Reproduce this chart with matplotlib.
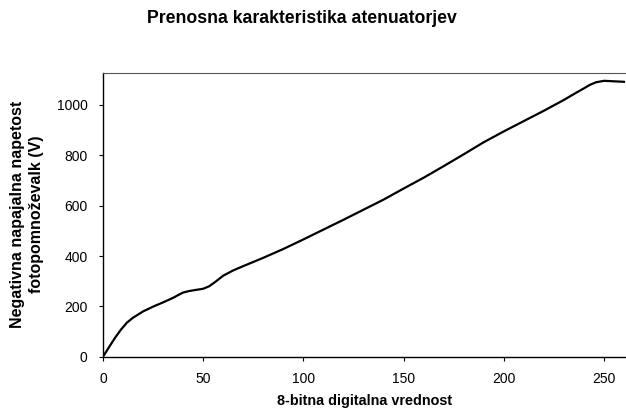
import matplotlib
matplotlib.use("Agg")
import matplotlib.pyplot as plt

plt.rcParams['font.family'] = ['Liberation Sans', 'DejaVu Sans']

digital = [0, 3, 6, 9, 12, 15, 20, 25, 30, 35, 38, 40, 43, 46, 50, 53, 56, 60, 65, 70,
           80, 90, 100, 110, 120, 130, 140, 150, 160, 170, 180, 190, 200, 210, 220,
           230, 236, 240, 243, 246, 250, 255, 260]
voltage = [0, 38, 75, 108, 136, 155, 180, 199, 216, 234, 247, 255, 261, 265, 270, 280,
           297, 322, 343, 360, 393, 428, 466, 505, 544, 584, 624, 668, 711, 757, 804,
           852, 895, 936, 977, 1020, 1048, 1066, 1080, 1090, 1096, 1094, 1092]
xticks = [0, 50, 100, 150, 200, 250]
yticks = [0, 200, 400, 600, 800, 1000]

fig = plt.figure(figsize=(6.26, 4.11), dpi=100)
ax = fig.add_axes([0.1645, 0.132, 0.8355, 0.691])
ax.plot(digital, voltage, color='black', lw=1.6, solid_joinstyle='round')
ax.set_xlim(0, 261)
ax.set_ylim(0, 1128)
ax.set_xticks(xticks)
ax.set_yticks(yticks)
ax.tick_params(direction='out', length=3, width=0.8, labelsize=10)
ax.tick_params(axis='y', pad=8)
ax.tick_params(axis='x', pad=8)
for s in ['left', 'bottom']:
    ax.spines[s].set_linewidth(1.0)
ax.spines['right'].set_visible(False)
ax.spines['top'].set_linestyle((0, (1, 1)))
ax.spines['top'].set_color('#555555')
ax.set_xlabel('8-bitna digitalna vrednost', fontsize=10.4, fontweight='bold', labelpad=6)
ax.set_ylabel('Negativna napajalna napetost\nfotopomnoževalk (V)', fontsize=11.5,
              fontweight='bold', labelpad=9, linespacing=1.4)
fig.text(0.483, 0.955, 'Prenosna karakteristika atenuatorjev', ha='center', va='center',
         fontsize=12.7, fontweight='bold')
fig.savefig('out.png', dpi=100)
